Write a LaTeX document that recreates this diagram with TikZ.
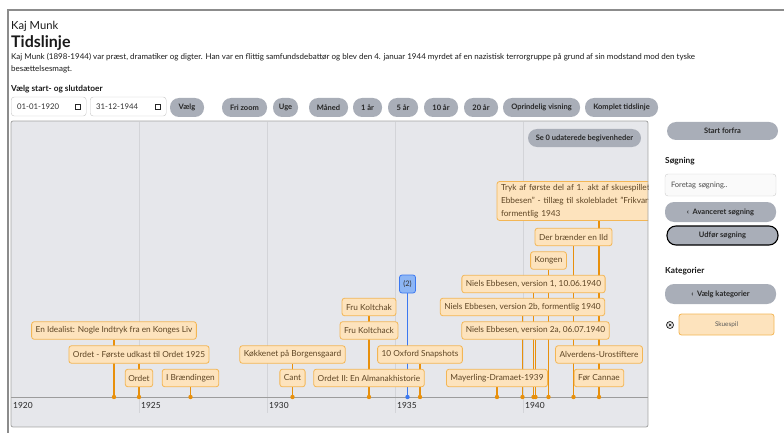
\documentclass[tikz,border=0pt]{standalone}
\usepackage{fontspec}
\setmainfont{Lato}
\definecolor{evfill}{HTML}{FDE3BD}
\definecolor{evline}{HTML}{F3B655}
\definecolor{evtext}{HTML}{5E4524}
\definecolor{stemc}{HTML}{E8900C}
\definecolor{btnfill}{HTML}{A9AEB8}
\definecolor{panelfill}{HTML}{E6E7EB}
\definecolor{panelline}{HTML}{A3A3A3}
\definecolor{gridc}{HTML}{D3D4D8}
\definecolor{axisc}{HTML}{9C9C9C}
\definecolor{framec}{HTML}{8C8C8C}
\definecolor{bluefill}{HTML}{8DB6F5}
\definecolor{blueline}{HTML}{3B78F0}
\pgfdeclarelayer{panel}
\pgfdeclarelayer{stems}
\pgfsetlayers{panel,stems,main}
\begin{document}
\begin{tikzpicture}[x=1pt, y=-1pt,
  evt/.style={draw=evline, fill=evfill, line width=0.8pt, rounded corners=2.5pt, text=evtext, font=\fontsize{8.3}{13}\selectfont, inner xsep=4pt, inner ysep=0pt, minimum height=17.5pt},
  grp/.style={draw=blueline, fill=bluefill, line width=0.8pt, rounded corners=2.5pt, text=black!80, font=\fontsize{7.6}{9}\selectfont, inner sep=0pt, minimum width=16pt, minimum height=18pt},
  stem/.style={draw=stemc, line width=1.1pt},
  dot/.style={circle, fill=stemc, inner sep=0pt, minimum size=4.4pt},
  btn/.style={fill=btnfill, rounded corners=9pt, font=\fontsize{7.5}{9}\selectfont\bfseries, text=black!85, minimum height=19pt, inner sep=0pt},
  inp/.style={draw=black!22, fill=white, rounded corners=3pt, font=\fontsize{7.8}{9}\selectfont, text=black!80, inner xsep=6pt, inner ysep=0pt, minimum height=19pt, align=left},
  txt/.style={anchor=west, inner sep=0pt, text=black!90},
  hdr/.style={txt, font=\fontsize{8.3}{10}\selectfont\bfseries},
  yrlbl/.style={anchor=west, inner sep=0pt, font=\fontsize{8.4}{10}\selectfont, text=black!85}]
\useasboundingbox (0,0) rectangle (784,433);

% page frame
\draw[framec, line width=1.6pt] (8,433) -- (8,10) -- (784,10);

% header
\node[txt, font=\fontsize{11.2}{13}\selectfont] (T0) at (11,26) {Kaj Munk};
\node[txt, font=\fontsize{16}{18}\selectfont\bfseries] (T1) at (11,43) {Tidslinje};
\node[txt, font=\fontsize{8}{10}\selectfont] (T2) at (11,57) {Kaj Munk (1898-1944) var præst, dramatiker og digter. Han var en flittig samfundsdebattør og blev den 4. januar 1944 myrdet af en nazistisk terrorgruppe på grund af sin modstand mod den tyske};
\node[txt, font=\fontsize{8}{10}\selectfont] (T3) at (11,69) {besættelsesmagt.};
\node[hdr] (T4) at (11,89) {Vælg start- og slutdatoer};

% date inputs
\node[inp, text width=63pt, anchor=west] (I1) at (11,106.5) {01-01-1920};
\node[inp, text width=64pt, anchor=west] (I2) at (90,106.5) {31-12-1944};
\foreach \cx in {78,158} {
  \draw[black!85, line width=0.8pt] (\cx-2.6,104) rectangle (\cx+2.6,109.4);
  \fill[black!85] (\cx-2.6,103.6) rectangle (\cx+2.6,105.4);
}

% buttons
\node[btn, minimum width=34pt] (B0) at (187,107.5) {Vælg};
\node[btn, minimum width=45pt] (B1) at (244.5,107.5) {Fri zoom};
\node[btn, minimum width=25pt] (B2) at (285.5,107.5) {Uge};
\node[btn, minimum width=39pt] (B3) at (328.5,107.5) {Måned};
\node[btn, minimum width=29pt] (B4) at (367.5,107.5) {1 år};
\node[btn, minimum width=30pt] (B5) at (403,107.5) {5 år};
\node[btn, minimum width=34pt] (B6) at (441,107.5) {10 år};
\node[btn, minimum width=34pt] (B7) at (481,107.5) {20 år};
\node[btn, minimum width=77pt] (B8) at (541.5,107.5) {Oprindelig visning};
\node[btn, minimum width=73pt] (B9) at (621.5,107.5) {Komplet tidslinje};

% timeline panel
\begin{pgfonlayer}{panel}
  \fill[panelfill] (11,121) rectangle (648,427);
  \foreach \gx in {139,267,395,523}
    \draw[gridc, line width=0.8pt] (\gx,122) -- (\gx,413);
  \draw[axisc, line width=0.9pt] (11,397) -- (648,397);
\end{pgfonlayer}
\node[yrlbl] (Y0) at (13,405.5) {1920};
\node[yrlbl] (Y1) at (141,405.5) {1925};
\node[yrlbl] (Y2) at (269,405.5) {1930};
\node[yrlbl] (Y3) at (397,405.5) {1935};
\node[yrlbl] (Y4) at (525,405.5) {1940};

\node[btn, minimum width=113pt, minimum height=18pt] (B10) at (584.5,138) {Se 0 udaterede begivenheder};

% events
\node[evt] (E1) at (114,330.5) {En Idealist: Nogle Indtryk fra en Konges Liv};
\node[evt] (E2) at (139,354.5) {Ordet - Første udkast til Ordet 1925};
\node[evt, inner xsep=3pt] (E3) at (139,378) {Ordet};
\node[evt] (E4) at (190.5,378) {I Brændingen};
\node[evt] (E5) at (292.5,354.5) {Køkkenet på Borgensgaard};
\node[evt] (E6) at (292.5,378) {Cant};
\node[evt] (E7) at (369,307) {Fru Koltchak};
\node[evt] (E8) at (369,330.5) {Fru Koltchack};
\node[evt] (E9) at (369,378) {Ordet II: En Almanakhistorie};
\node[evt] (E10) at (420,354.5) {10 Oxford Snapshots};
\node[evt] (E11) at (497,378) {Mayerling-Dramaet-1939};
\node[evt] (E12) at (522.5,307) {Niels Ebbesen, version 2b, formentlig 1940};
\node[evt] (E13) at (533.5,284) {Niels Ebbesen, version 1, 10.06.1940};
\node[evt] (E14) at (535.5,330.5) {Niels Ebbesen, version 2a, 06.07.1940};
\node[evt] (E15) at (548.5,260.5) {Kongen};
\node[evt] (E16) at (573.5,237) {Der brænder en Ild};
\node[evt] (E17) at (599,354.5) {Alverdens-Urostiftere};
\node[evt] (E18) at (599,378) {Før Cannae};
\begin{scope}
  \clip (11,121) rectangle (648,427);
  \node[evt, text width=196pt, align=left, inner ysep=2.5pt] (E19) at (599,201) {Tryk af første del af 1. akt af skuespillet "Niels\\Ebbesen" - tillæg til skolebladet "Frikvarteret",\\formentlig 1943};
\end{scope}
\node[grp] (G1) at (407.5,284) {(2)};

% axis points
\node[dot] (P1) at (114,397) {};
\node[dot] (P2) at (139,397) {};
\node[dot] (P3) at (190.5,397) {};
\node[dot] (P4) at (292.5,397) {};
\node[dot] (P5) at (369,397) {};
\node[dot] (P6) at (420,397) {};
\node[dot] (P7) at (497,397) {};
\node[dot] (P8) at (522.5,397) {};
\node[dot] (P9) at (533.5,397) {};
\node[dot] (P10) at (535.5,397) {};
\node[dot] (P11) at (548.5,397) {};
\node[dot] (P12) at (573.5,397) {};
\node[dot] (P13) at (599,397) {};
\node[dot, fill=blueline] (Q1) at (407.5,397) {};

\begin{pgfonlayer}{stems}
  \draw[stem] (E1) -- (P1);
  \draw[stem] (E2) -- (P2);
  \draw[stem] (E3) -- (P2);
  \draw[stem] (E4) -- (P3);
  \draw[stem] (E5) -- (P4);
  \draw[stem] (E6) -- (P4);
  \draw[stem] (E7) -- (P5);
  \draw[stem] (E8) -- (P5);
  \draw[stem] (E9) -- (P5);
  \draw[stem] (E10) -- (P6);
  \draw[stem] (E11) -- (P7);
  \draw[stem] (E12) -- (P8);
  \draw[stem] (E13) -- (P9);
  \draw[stem] (E14) -- (P10);
  \draw[stem] (E15) -- (P11);
  \draw[stem] (E16) -- (P12);
  \draw[stem] (E17) -- (P13);
  \draw[stem] (E18) -- (P13);
  \draw[stem] (E19) -- (P13);
  \draw[stem, draw=blueline, line width=1.3pt] (G1) -- (Q1);
\end{pgfonlayer}

\draw[panelline, line width=0.8pt, rounded corners=2pt] (11,121) rectangle (648,427);

% side panel
\node[btn, minimum width=111pt, minimum height=18pt] (S0) at (722.5,131) {Start forfra};
\node[hdr] (S1) at (665,161) {Søgning};
\node[inp, fill=black!2, draw=black!20, text width=99pt, minimum height=22pt, font=\fontsize{7.5}{9}\selectfont, text=black!70] (S2) at (720.5,185) {Foretag søgning..};
\node[btn, minimum width=111pt, minimum height=20pt] (S3) at (720.5,212) {‹\ \ Avanceret søgning};
\node[btn, draw=black, line width=1.1pt, minimum width=111pt, minimum height=19pt] (S4) at (722.5,235.5) {Udfør søgning};
\node[hdr] (S5) at (665,271) {Kategorier};
\node[btn, minimum width=111pt, minimum height=20pt] (S6) at (720.5,294) {‹\ \ Vælg kategorier};
\node[circle, draw=black!85, line width=0.8pt, inner sep=0pt, minimum size=7pt] (S7) at (670,325) {};
\draw[black!85, line width=0.7pt] (S7.center) ++(-1.3,-1.3) -- ++(2.6,2.6) ++(-2.6,0) -- ++(2.6,-2.6);
\node[evt, minimum width=95pt, minimum height=21pt, font=\fontsize{6.4}{8}\selectfont, text=black!65] (S8) at (726.5,324.5) {Skuespil};
\end{tikzpicture}
\end{document}
